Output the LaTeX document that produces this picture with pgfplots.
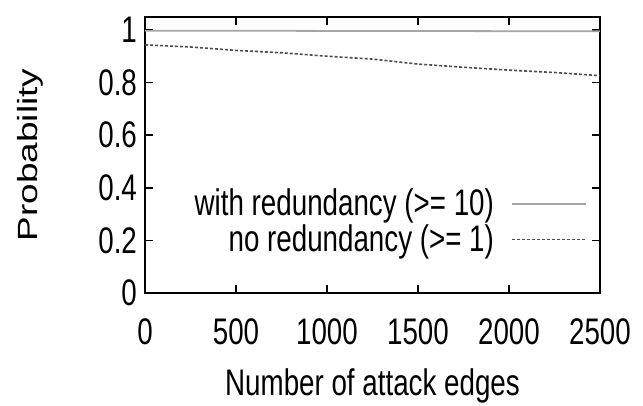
\documentclass[border=0pt]{standalone}
\usepackage{graphicx}
\usepackage{fontspec}
\setmainfont{Liberation Sans}[FakeStretch=0.75]
\newfontfamily\plainsans{Liberation Sans}
\usepackage{pgfplots}
\pgfplotsset{compat=1.18}
\begin{document}
\begin{tikzpicture}
\begin{axis}[
  name=ax,
  width=227.5pt, height=138pt, scale only axis,
  xmin=0, xmax=2500, ymin=0, ymax=1.049,
  xtick={0,500,1000,1500,2000,2500},
  xticklabels={0,500,1000,1500,2000,2500},
  ytick={0,0.2,0.4,0.6,0.8,1},
  yticklabels={0,0.2,0.4,0.6,0.8,1},
  tick align=inside, major tick length=4pt,
  axis line style={line width=0.8pt},
  every tick/.style={black, line width=0.8pt},
  font=\fontsize{18.5}{20}\selectfont,
  xticklabel style={yshift=-9.5pt},
  yticklabel style={xshift=-0.5pt},
  xlabel={Number of attack edges},
  ylabel={\scalebox{1}[0.75]{\plainsans\fontsize{18.5}{20}\selectfont Probability}},
  xlabel style={at={(axis description cs:0.5,-0.337)}, anchor=center},
  ylabel style={at={(axis description cs:-0.253,0.5)}, anchor=center},
  legend plot pos=right,
  legend cell align=right,
  legend style={at={(axis description cs:0.985,0.109)}, anchor=south east,
    draw=none, fill=none, font=\fontsize{18.5}{20}\selectfont,
    row sep=-1pt,
    /tikz/every odd column/.append style={column sep=6.5pt}},
  legend image code/.code={\draw[#1] (0pt,0pt) -- (37pt,0pt);},
]
\addplot[gray!70, line width=0.9pt] coordinates {
  (0,0.997) (500,0.997) (1000,0.996) (1500,0.996) (2000,0.995) (2500,0.995)};
\addlegendentry{with redundancy (>= 10)}
\addplot[black!70, line width=0.8pt, dash pattern=on 1.5pt off 1pt] coordinates {
  (0,0.943) (250,0.935) (500,0.922) (750,0.913) (1000,0.900) (1250,0.889)
  (1500,0.870) (1750,0.858) (2000,0.847) (2250,0.838) (2500,0.826)};
\addlegendentry{no redundancy (>= 1)}
\end{axis}
\pgfresetboundingbox
\path ([shift={(-72.5pt,-56.5pt)}]ax.south west) rectangle ++(321.5pt,203pt);
\end{tikzpicture}
\end{document}
